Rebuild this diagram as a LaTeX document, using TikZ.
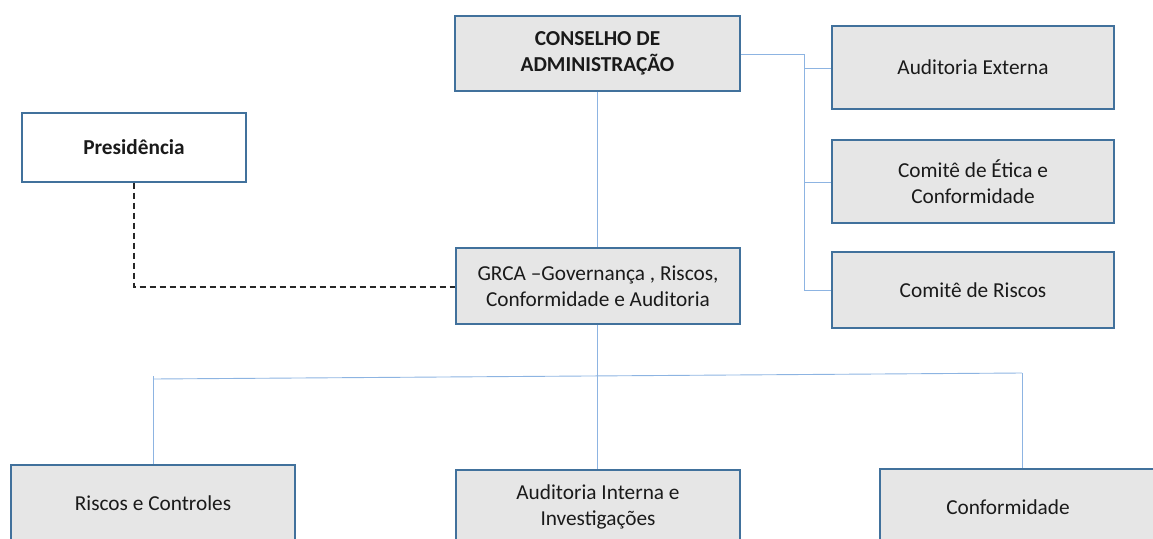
\documentclass[tikz,border=0pt]{standalone}
\usepackage{fontspec}
\setmainfont{Carlito}
\definecolor{boxborder}{HTML}{41719C}
\definecolor{boxfill}{HTML}{E6E6E6}
\definecolor{linkblue}{HTML}{8DB4E2}
\definecolor{txt}{HTML}{1A1A1A}
\newcommand{\boxfont}{\fontsize{21.3}{26}\selectfont}
\tikzset{
  box/.style={draw=boxborder, fill=boxfill, line width=1.4pt, rectangle, inner sep=2pt,
    align=center, text=txt, font=\boxfont},
  boldbox/.style={box, font=\bfseries\boxfont},
  link/.style={draw=linkblue, line width=0.9pt},
  dashlink/.style={draw=black!85, line width=1.1pt, dash pattern=on 6pt off 4pt}
}
\begin{document}
\begin{tikzpicture}[x=1pt,y=-1pt]
\useasboundingbox (0,0) rectangle (1153,538);
\clip (0,0) rectangle (1153,538);
\coordinate (bt) at (804,54);
\coordinate (b1) at (804,68);
\coordinate (b2) at (804,182);
\coordinate (b3) at (804,290);
\coordinate (hl) at (153,379);
\coordinate (hr) at (1022,373);
\coordinate (dc) at (134,287);
% nodes
\node[boldbox, minimum width=285, minimum height=75] (cons) at (597.5,53.5) {CONSELHO DE\\ADMINISTRAÇÃO};
\node[box, minimum width=282, minimum height=83] (audext) at (973,67.5) {Auditoria Externa};
\node[box, minimum width=282, minimum height=83] (etica) at (973,181.5) {Comitê de Ética e\\Conformidade};
\node[box, minimum width=282, minimum height=76] (criscos) at (973,290) {Comitê de Riscos};
\node[boldbox, fill=white, minimum width=224, minimum height=69] (pres) at (134,147.5) {Presidência};
\node[box, minimum width=284, minimum height=76] (grca) at (598,286) {GRCA –Governança , Riscos,\\Conformidade e Auditoria};
\node[box, minimum width=284, minimum height=76] (rc) at (153,503) {Riscos e Controles};
\node[box, minimum width=284, minimum height=74] (ai) at (598,507) {Auditoria Interna e\\Investigações};
\node[box, minimum width=284, minimum height=76] (conf) at (1022,507) {};
\node[text=txt, font=\boxfont] (conftext) at (1008,507) {Conformidade};
% connectors
\draw[link] (cons.east |- bt) -- (bt) -- (b3) -- (criscos.west |- b3);
\draw[link] (b1) -- (audext.west |- b1);
\draw[link] (b2) -- (etica.west |- b2);
\draw[link] (cons.south -| 597,0) -- (grca.north -| 597,0);
\draw[link] (grca.south -| 597,0) -- (ai.north -| 597,0);
\draw[link] (hl) -- (hr);
\draw[link] (153,376) -- (rc.north -| 153,0);
\draw[link] (hr) -- (conf.north -| hr);
\draw[dashlink] (pres.south -| dc) -- (dc) -- (grca.west |- dc);
\end{tikzpicture}
\end{document}
